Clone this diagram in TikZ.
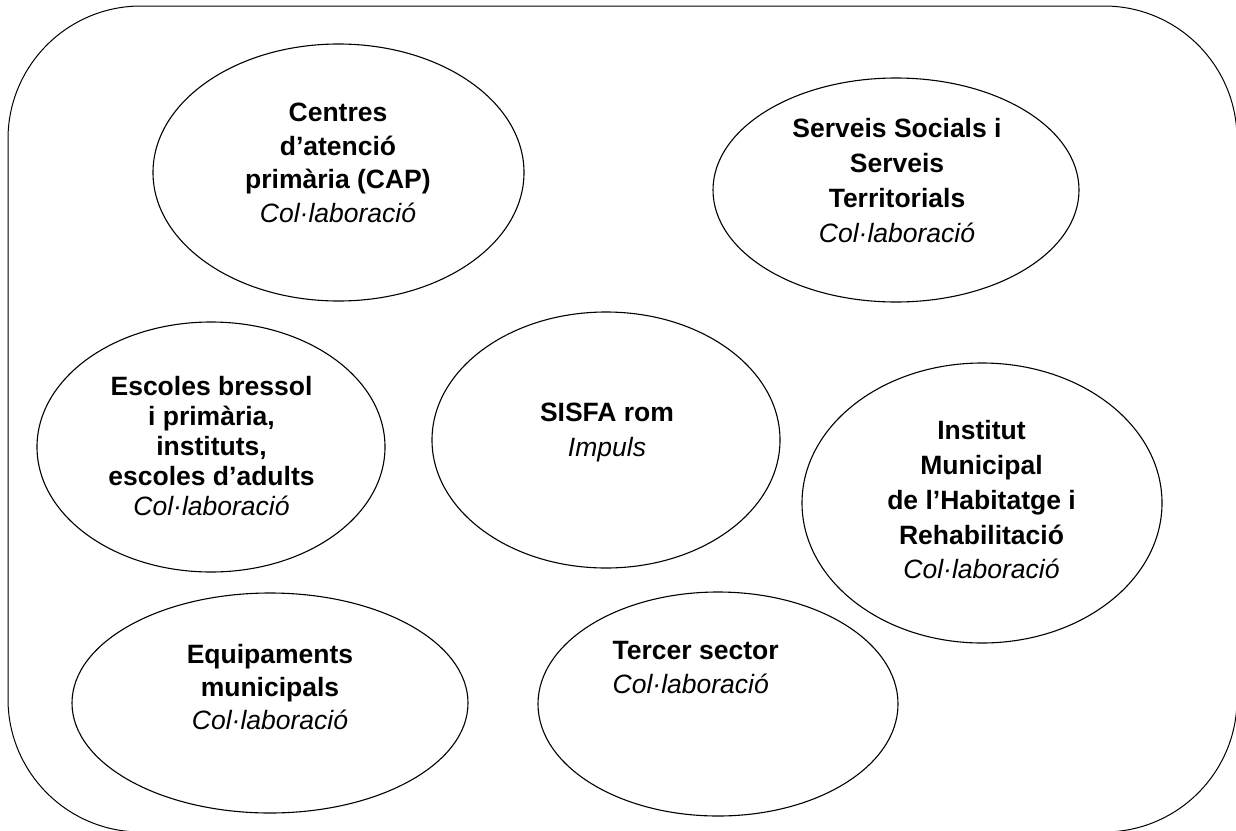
\documentclass[tikz,border=0pt]{standalone}
\usepackage{fontspec}
\setmainfont{Liberation Sans}
\usetikzlibrary{shapes.geometric}
\newcommand\colab{\textnormal{\itshape Col·laboració}}
\tikzset{
  ell/.style={draw=black, line width=1.1pt, ellipse, inner sep=0pt},
  txt/.style={font=\fontsize{26.5}{#1}\selectfont\bfseries, align=center, inner sep=0pt},
  outerbox/.style={draw=black, line width=1pt, rounded corners=133pt}
}
\begin{document}
\begin{tikzpicture}[x=1pt,y=-1pt]
\useasboundingbox (0,0) rectangle (1236,830);
\fill[white] (0,0) rectangle (1236,830);
\draw[outerbox] (8,6) rectangle (1237,832);

\node[ell, minimum width=371pt, minimum height=257pt] (cap) at (338.5,172.5) {};
\node[txt=33.7] (capT) at (338,163) {Centres\\d’atenció\\primària (CAP)\\\colab};

\node[ell, minimum width=366pt, minimum height=224pt] (ss) at (896,190) {};
\node[txt=35] (ssT) at (897,181) {Serveis Socials i\\Serveis\\Territorials\\\colab};

\node[ell, minimum width=348pt, minimum height=250pt] (esc) at (211,447) {};
\node[txt=30] (escT) at (211.5,446) {Escoles bressol\\i primària,\\instituts,\\escoles d’adults\\\colab};

\node[ell, minimum width=348pt, minimum height=256pt] (sisfa) at (606,440) {};
\node[txt=35] (sisfaT) at (607,432.5) {SISFA rom\\\textnormal{\itshape Impuls}};

\node[ell, minimum width=360pt, minimum height=280pt] (imh) at (982,503) {};
\node[txt=34.75] (imhT) at (981.5,500) {Institut\\Municipal\\de l’Habitatge i\\Rehabilitació\\\colab};

\node[ell, minimum width=396pt, minimum height=220pt] (equip) at (270,703) {};
\node[txt=33] (equipT) at (270,687) {Equipaments\\municipals\\\colab};

\node[ell, minimum width=360pt, minimum height=224pt] (tercer) at (718,704) {};
\node[txt=34, align=left, anchor=west] (tercerT) at (612.5,668) {Tercer sector\\\colab};
\end{tikzpicture}
\end{document}
